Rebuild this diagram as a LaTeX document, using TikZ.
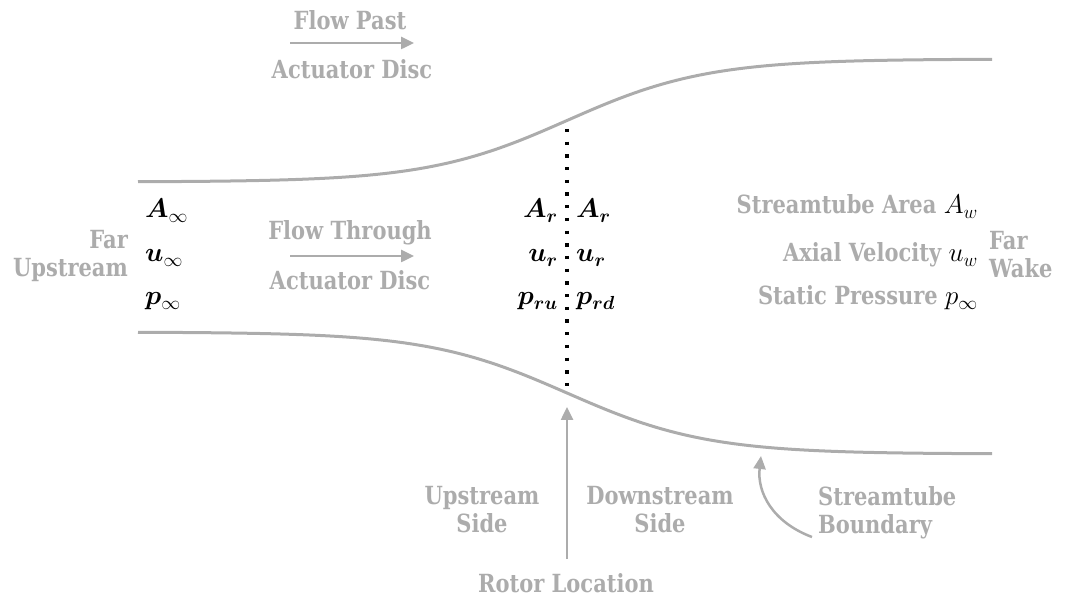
\RequirePackage{fix-cm}
\documentclass[tikz,border=0pt]{standalone}
\usepackage{amsmath,bm}
\usepackage{fontspec}
\setmainfont{DejaVu Serif}[FakeStretch=0.84]
\usepackage{tikz}
\usetikzlibrary{arrows.meta}
\tikzset{>={Triangle[length=13,width=12]}}
\definecolor{lightgrey}{HTML}{ACACAC}
\tikzset{lbl/.style={text=lightgrey,font=\fontsize{25}{28}\selectfont\bfseries,inner sep=0pt},
 sym/.style={font=\fontsize{27}{30}\selectfont,inner sep=0pt},
 tube/.style={draw=lightgrey,line width=3pt},
 pointer/.style={draw=lightgrey,line width=2.5pt,->},
 disc/.style={line width=3.3pt,dash pattern=on 3.3pt off 9.4pt}}

\begin{document}
\begin{tikzpicture}[x=1pt,y=-1pt]
\useasboundingbox (0,0) rectangle (1074,601);
% streamtube
\draw[tube] plot[domain=138:992,samples=120] (\x,{120.5-61.5*tanh((\x-567)/140)});
\draw[tube] plot[domain=138:992,samples=120] (\x,{393+61*tanh((\x-567)/140)});
% actuator disc
\coordinate (dtop) at (567,129);
\coordinate (dbot) at (567,390);
\draw[disc] (dtop) -- (dbot);
% flow labels
\node[lbl] (past) at (350,20) {Flow Past};
\node[lbl] (pastdisc) at (352,69) {Actuator Disc};
\coordinate (pasta) at (290,43);
\coordinate (pastb) at (414,43);
\draw[pointer] (pasta) -- (pastb);
\node[lbl] (through) at (350,233) {Flow Through};
\node[lbl] (throughdisc) at (350,280) {Actuator Disc};
\coordinate (througha) at (290,256);
\coordinate (throughb) at (414,256);
\draw[pointer] (througha) -- (throughb);
% far upstream
\node[lbl,align=right,anchor=east] (farup) at (128,256) {Far\\Upstream};
\node[sym,anchor=base west] (ainf) at (145,218) {$\bm{A}_{\infty}$};
\node[sym,anchor=base west] (uinf) at (145,262) {$\bm{u}_{\infty}$};
\node[sym,anchor=base west] (pinf) at (145,305) {$\bm{p}_{\infty}$};
% rotor
\node[sym,anchor=base east] (aru) at (558,218) {$\bm{A}_{\bm{r}}$};
\node[sym,anchor=base east] (uru) at (558,262) {$\bm{u}_{\bm{r}}$};
\node[sym,anchor=base east] (pru) at (558,305) {$\bm{p}_{\bm{ru}}$};
\node[sym,anchor=base west] (ard) at (576,218) {$\bm{A}_{\bm{r}}$};
\node[sym,anchor=base west] (urd) at (576,262) {$\bm{u}_{\bm{r}}$};
\node[sym,anchor=base west] (prd) at (576,305) {$\bm{p}_{\bm{rd}}$};
% far wake
\node[lbl,anchor=base east] (area) at (978,214) {Streamtube Area {\fontsize{27}{30}\selectfont\textcolor{black}{$A_w$}}};
\node[lbl,anchor=base east] (vel) at (978,262) {Axial Velocity {\fontsize{27}{30}\selectfont\textcolor{black}{$u_w$}}};
\node[lbl,anchor=base east] (pres) at (978,305) {Static Pressure {\fontsize{27}{30}\selectfont\textcolor{black}{$p_{\infty}$}}};
\node[lbl,align=left,anchor=west] (farwake) at (989,255) {Far\\Wake};
% bottom labels
\node[lbl,align=center] (upside) at (482,510) {Upstream\\Side};
\node[lbl,align=center] (downside) at (660,510) {Downstream\\Side};
\node[lbl] (rotor) at (566,583) {Rotor Location};
\coordinate (rotortip) at (567,407);
\draw[pointer] (rotor.north) ++(1,-14) -- (rotortip);
\node[lbl,align=left,anchor=west] (bound) at (818,513) {Streamtube\\Boundary};
\coordinate (bndstart) at (812,537);
\coordinate (bndtip) at (761,456);
\draw[pointer] (bndstart) .. controls (772,522) and (757,492) .. (bndtip);
\end{tikzpicture}
\end{document}
